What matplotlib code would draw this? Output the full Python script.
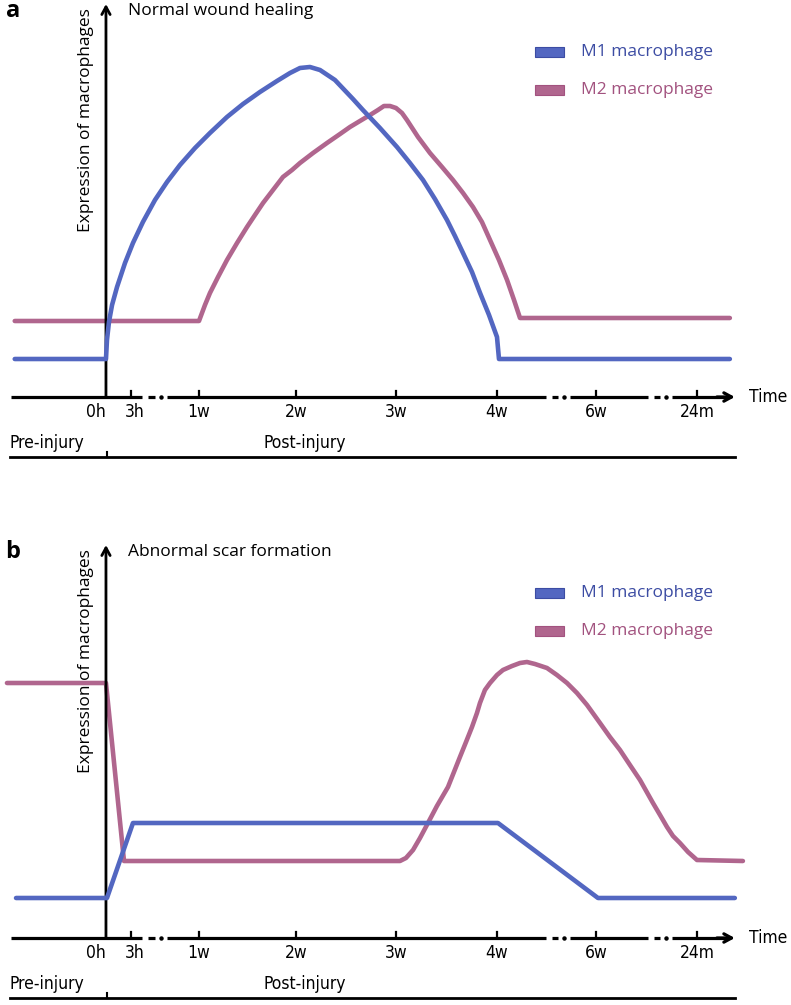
import matplotlib.pyplot as plt
from matplotlib.patches import Rectangle

plt.rcParams['font.family'] = ['Open Sans', 'DejaVu Sans']

BLUE = '#5367c1'
PINK = '#b0668e'
BLUE_TXT = '#3c4ca3'
PINK_TXT = '#a2527f'
NARROW = dict(family=['DejaVu Sans'], fontstretch='condensed')

# x in "time slot" units (1w = 1), y in arbitrary expression units
tick_labels = ['0h', '3h', '1w', '2w', '3w', '4w', '6w', '24m']
tick_pos = [0.066, 0.317, 1.0, 1.974, 2.978, 3.992, 4.986, 6.0]
label_pos = [-0.034, 0.35, 1.0, 1.974, 2.978, 3.992, 4.986, 6.0]
axis_breaks = [(0.43, 0.68), (4.48, 4.73), (5.51, 5.75)]

# panel a: normal wound healing
a_m1_x = [-0.85, 0.066, 0.076, 0.096, 0.127, 0.177, 0.257, 0.337, 0.437, 0.558,
          0.679, 0.809, 0.960, 1.110, 1.281, 1.442, 1.612, 1.783, 1.914, 2.014,
          2.114, 2.215, 2.365, 2.546, 2.646, 2.817, 2.988, 3.118, 3.249, 3.369,
          3.490, 3.570, 3.651, 3.741, 3.822, 3.912, 3.992, 4.012, 6.33]
a_m1_y = [0.38, 0.38, 0.57, 0.75, 0.92, 1.10, 1.34, 1.54, 1.75, 1.97,
          2.15, 2.32, 2.49, 2.64, 2.80, 2.93, 3.05, 3.16, 3.24, 3.29,
          3.30, 3.27, 3.17, 2.98, 2.87, 2.69, 2.50, 2.34, 2.17, 1.98,
          1.77, 1.61, 1.44, 1.25, 1.04, 0.82, 0.60, 0.38, 0.38]
a_m2_x = [-0.85, 1.0, 1.060, 1.110, 1.191, 1.281, 1.382, 1.482, 1.562, 1.643,
          1.743, 1.843, 1.934, 2.014, 2.145, 2.285, 2.416, 2.516, 2.616, 2.717,
          2.797, 2.857, 2.918, 2.978, 3.038, 3.088, 3.199, 3.319, 3.440, 3.550,
          3.651, 3.751, 3.841, 3.922, 4.012, 4.093, 4.163, 4.223, 6.33]
a_m2_y = [0.76, 0.76, 0.92, 1.04, 1.20, 1.37, 1.54, 1.70, 1.82, 1.94,
          2.07, 2.20, 2.27, 2.34, 2.44, 2.54, 2.63, 2.70, 2.76, 2.82,
          2.87, 2.91, 2.91, 2.89, 2.84, 2.77, 2.60, 2.44, 2.30, 2.17,
          2.04, 1.90, 1.75, 1.57, 1.37, 1.17, 0.97, 0.79, 0.79]

# panel b: abnormal scar formation
b_m1_x = [-0.837, 0.076, 0.337, 4.002, 5.006, 6.38]
b_m1_y = [0.40, 0.40, 1.15, 1.15, 0.40, 0.40]
b_m2_x = [-0.928, 0.066, 0.247, 3.018, 3.078, 3.149, 3.219, 3.299, 3.389, 3.500,
          3.560, 3.620, 3.681, 3.741, 3.791, 3.821, 3.871, 3.922, 3.992, 4.052,
          4.143, 4.223, 4.293, 4.373, 4.494, 4.594, 4.695, 4.795, 4.896, 5.026,
          5.126, 5.227, 5.327, 5.428, 5.558, 5.629, 5.699, 5.759, 5.829, 5.910,
          6.000, 6.461]
b_m2_y = [2.55, 2.55, 0.77, 0.77, 0.80, 0.88, 1.00, 1.15, 1.32, 1.51,
          1.66, 1.81, 1.96, 2.11, 2.25, 2.35, 2.48, 2.55, 2.63, 2.68,
          2.72, 2.75, 2.76, 2.74, 2.70, 2.63, 2.55, 2.45, 2.33, 2.15,
          2.01, 1.88, 1.73, 1.58, 1.35, 1.23, 1.11, 1.02, 0.95, 0.86,
          0.78, 0.77]


def draw_panel(ax, letter, title, m1x, m1y, m2x, m2y):
    ax.set_axis_off()

    ax.plot(m2x, m2y, color=PINK, lw=3.3, solid_joinstyle='round', solid_capstyle='round', zorder=3)
    ax.plot(m1x, m1y, color=BLUE, lw=3.3, solid_joinstyle='round', solid_capstyle='round', zorder=4)

    # x axis with breaks
    starts = [-0.89] + [b[1] for b in axis_breaks]
    ends = [b[0] for b in axis_breaks] + [6.3]
    for s, e in zip(starts, ends):
        ax.plot([s, e], [0, 0], color='k', lw=2.3, solid_capstyle='butt', zorder=5)
    for g0, g1 in axis_breaks:
        w = g1 - g0
        ax.plot([g0 + 0.25 * w, g0 + 0.5 * w], [0, 0], color='k', lw=2.3, solid_capstyle='butt')
        ax.plot([g0 + 0.75 * w], [0], 'o', color='k', ms=2.2)
    ax.annotate('', xy=(6.38, 0), xytext=(6.2, 0),
                arrowprops=dict(arrowstyle='->,head_length=0.55,head_width=0.3',
                                lw=2.3, color='k', shrinkA=0, shrinkB=0))
    ax.text(6.52, 0.0, 'Time', ha='left', va='center', fontsize=12.5, **NARROW)

    for p in tick_pos[1:]:
        ax.plot([p, p], [0, 0.06], color='k', lw=1.6)
    for lab, p in zip(tick_labels, label_pos):
        ax.text(p, -0.15, lab, ha='center', va='center', fontsize=12.5, **NARROW)

    # y axis
    ax.annotate('', xy=(0.066, 3.93), xytext=(0.066, 0),
                arrowprops=dict(arrowstyle='->,head_length=0.55,head_width=0.3',
                                lw=2.0, color='k', shrinkA=0, shrinkB=0))
    ax.text(-0.13, 2.77, 'Expression of macrophages', rotation=90,
            ha='center', va='center', fontsize=12.5)
    ax.text(0.287, 3.86, title, ha='left', va='center', fontsize=12.5)
    ax.text(-0.87, 3.86, letter, ha='center', va='center', fontsize=17, fontweight='bold')

    # legend
    for (yy, col, txtcol, lab) in [(3.45, BLUE, BLUE_TXT, 'M1 macrophage'),
                                   (3.07, PINK, PINK_TXT, 'M2 macrophage')]:
        ax.add_patch(Rectangle((4.37, yy - 0.05), 0.29, 0.10, facecolor=col,
                               edgecolor=txtcol, lw=0.8, zorder=6))
        ax.text(4.84, yy, lab, ha='left', va='center', fontsize=12.5, color=txtcol)

    # pre/post injury bar
    ax.plot([-0.898, 6.38], [-0.60, -0.60], color='k', lw=2.0)
    ax.plot([0.08, 0.08], [-0.60, -0.55], color='k', lw=1.5)
    ax.text(-0.898, -0.46, 'Pre-injury', ha='left', va='center', fontsize=12.5, **NARROW)
    ax.text(1.643, -0.46, 'Post-injury', ha='left', va='center', fontsize=12.5, **NARROW)


fig = plt.figure(figsize=(7.91, 10.05), dpi=100)
ax_a = fig.add_axes([0, (1005 - 470) / 1005, 1, 470 / 1005])
ax_a.set_xlim(-0.998, 6.944)
ax_a.set_ylim(-0.73, 3.97)
ax_b = fig.add_axes([0, 0, 1, 525 / 1005])
ax_b.set_xlim(-0.998, 6.944)
ax_b.set_ylim(-0.67, 4.58)

draw_panel(ax_a, 'a', 'Normal wound healing', a_m1_x, a_m1_y, a_m2_x, a_m2_y)
draw_panel(ax_b, 'b', 'Abnormal scar formation', b_m1_x, b_m1_y, b_m2_x, b_m2_y)

fig.savefig('out.png', dpi=100)
